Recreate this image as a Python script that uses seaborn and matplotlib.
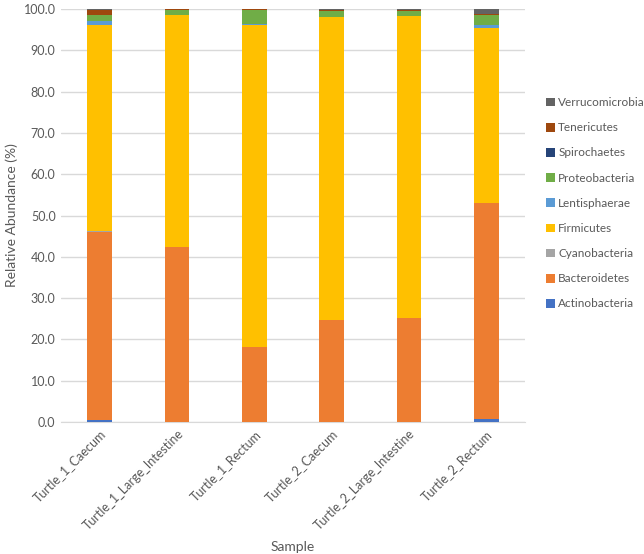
import matplotlib
matplotlib.use("Agg")
import matplotlib.pyplot as plt
import pandas as pd
import seaborn as sns

# Data (relative abundance, %)
samples = ["Turtle_1_Caecum", "Turtle_1_Large_Intestine", "Turtle_1_Rectum",
           "Turtle_2_Caecum", "Turtle_2_Large_Intestine", "Turtle_2_Rectum"]
phyla = ["Actinobacteria", "Bacteroidetes", "Cyanobacteria", "Firmicutes",
         "Lentisphaerae", "Proteobacteria", "Spirochaetes", "Tenericutes",
         "Verrucomicrobia"]
actinobacteria = [0.5, 0.1, 0.1, 0.1, 0.1, 0.8]
bacteroidetes = [45.6, 42.2, 18.2, 24.5, 25.1, 52.3]
cyanobacteria = [0.1, 0.0, 0.0, 0.1, 0.0, 0.0]
firmicutes = [49.8, 56.2, 77.9, 73.3, 73.0, 42.3]
lentisphaerae = [1.1, 0.1, 0.1, 0.1, 0.1, 0.8]
proteobacteria = [1.5, 1.2, 3.5, 1.3, 1.1, 2.2]
spirochaetes = [0.0, 0.0, 0.0, 0.0, 0.0, 0.1]
tenericutes = [1.2, 0.1, 0.1, 0.4, 0.4, 0.2]
verrucomicrobia = [0.2, 0.1, 0.1, 0.2, 0.2, 1.3]

colors = {"Actinobacteria": "#4472C4", "Bacteroidetes": "#ED7D31",
          "Cyanobacteria": "#A5A5A5", "Firmicutes": "#FFC000",
          "Lentisphaerae": "#5B9BD5", "Proteobacteria": "#70AD47",
          "Spirochaetes": "#264478", "Tenericutes": "#9E480E",
          "Verrucomicrobia": "#636363"}

df = pd.DataFrame({"Sample": samples, "Actinobacteria": actinobacteria,
                   "Bacteroidetes": bacteroidetes, "Cyanobacteria": cyanobacteria,
                   "Firmicutes": firmicutes, "Lentisphaerae": lentisphaerae,
                   "Proteobacteria": proteobacteria, "Spirochaetes": spirochaetes,
                   "Tenericutes": tenericutes, "Verrucomicrobia": verrucomicrobia})
cum = df[phyla].cumsum(axis=1)
cum["Sample"] = samples

sns.set_style("white")
plt.rcParams["font.family"] = ["Lato", "DejaVu Sans"]
txt = "#595959"

fig = plt.figure(figsize=(6.44, 5.54), dpi=100)
ax = fig.add_axes([0.095, 0.238, 0.72, 0.746])

# draw cumulative totals back to front so each segment shows as a stack
for p in phyla[::-1]:
    sns.barplot(x="Sample", y=p, data=cum, order=samples, color=colors[p],
                label=p, width=0.32, saturation=1, ax=ax, linewidth=0, zorder=3)

ax.set_ylim(0, 100)
ax.set_xlim(-0.5, 5.5)
ax.set_yticks(range(0, 101, 10))
ax.set_yticklabels([f"{v:.1f}" for v in range(0, 101, 10)], fontsize=9, color=txt)
ax.set_xticks(range(len(samples)))
ax.set_xticklabels(samples, rotation=45, ha="right", rotation_mode="anchor",
                   fontsize=9, color=txt)
ax.yaxis.grid(True, color="#D9D9D9", linewidth=1, zorder=0)
ax.set_axisbelow(True)
for s in ["top", "right", "left"]:
    ax.spines[s].set_visible(False)
ax.spines["bottom"].set_color("#D9D9D9")
ax.tick_params(axis="both", length=0, pad=4)
ax.set_xlabel("Sample", fontsize=10, color=txt, labelpad=6)
ax.set_ylabel("Relative Abundance (%)", fontsize=10, color=txt)

leg = fig.legend(*ax.get_legend_handles_labels(), loc="center left",
                 bbox_to_anchor=(0.831, 0.633), frameon=False, fontsize=8.5,
                 handlelength=0.75, handleheight=0.75, handletextpad=0.3,
                 labelspacing=1.2)
for t in leg.get_texts():
    t.set_color(txt)
if ax.get_legend():
    ax.get_legend().remove()

fig.savefig("out.png", dpi=100)
